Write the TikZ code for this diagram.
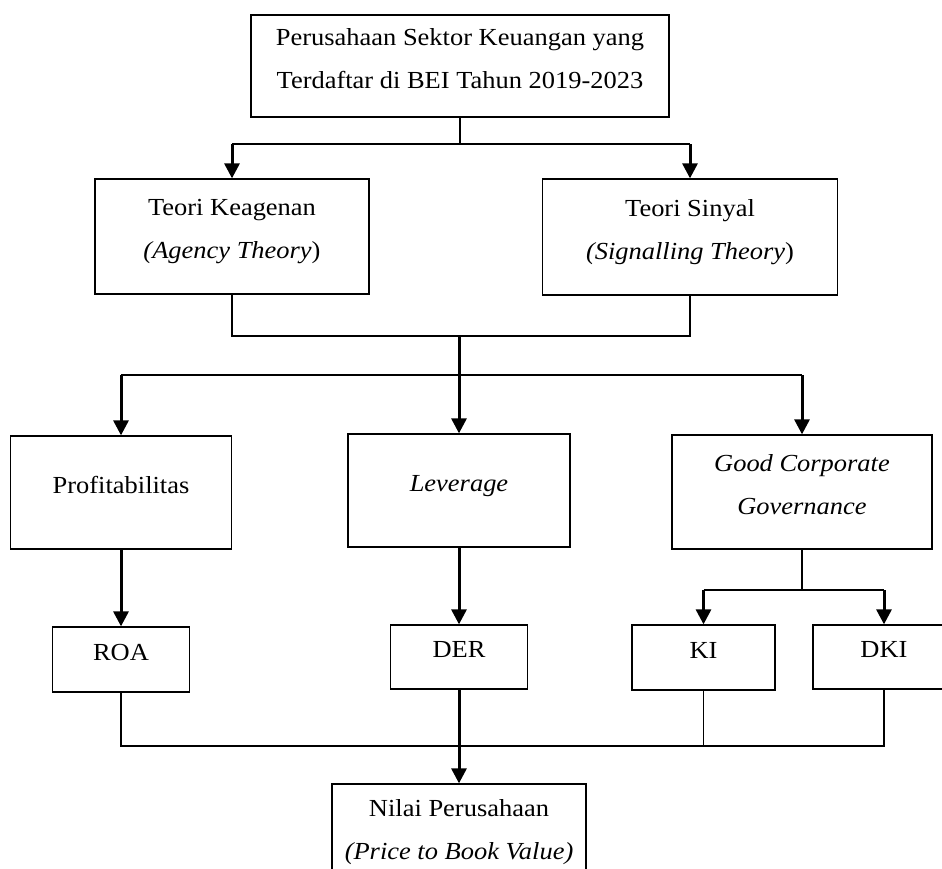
\documentclass[tikz,border=0pt]{standalone}
\usepackage{fontspec}
\setmainfont{Liberation Serif}[FakeStretch=1.08]
\usetikzlibrary{arrows.meta,arrows}

\begin{document}
\begin{tikzpicture}[x=1pt, y=-1pt, >={Triangle[length=15pt,width=15pt]},
  box/.style={draw, line width=1.3pt, inner sep=0pt, align=center, font=\fontsize{24.5}{43}\selectfont,
    execute at end node={\rule[-15pt]{0pt}{15pt}}},
  link/.style={line width=1.2pt},
  flow/.style={line width=3pt, ->}]

\useasboundingbox (0,0) rectangle (942,868);
\clip (0,0) rectangle (942,868);

% draw the boxes
\node[box, minimum width=418pt, minimum height=102pt] (bei) at (460,66) {Perusahaan Sektor Keuangan yang\\Terdaftar di BEI Tahun 2019-2023};
\node[box, minimum width=274pt, minimum height=115pt] (agency) at (232,236.5) {Teori Keagenan\\\textit{(Agency Theory})};
\node[box, minimum width=295pt, minimum height=116pt] (signal) at (690,237) {Teori Sinyal\\\textit{(Signalling Theory})};

\node[box, minimum width=221pt, minimum height=113pt] (profit) at (121,492.5) {Profitabilitas};
\node[box, minimum width=222pt, minimum height=113pt] (lev) at (459,490.5) {\textit{Leverage}};
\node[box, minimum width=260pt, minimum height=114pt] (gcg) at (802,492) {\textit{Good Corporate}\\\textit{Governance}};

\node[box, minimum width=137pt, minimum height=65pt] (roa) at (121,659.5) {ROA};
\node[box, minimum width=137pt, minimum height=64pt] (der) at (459,657) {DER};
\node[box, minimum width=143pt, minimum height=65pt] (ki) at (703.5,657.5) {KI};
\node[box, minimum width=142pt, minimum height=64pt] (dki) at (884,657) {DKI};

\node[box, minimum width=254pt, minimum height=106pt] (pbv) at (459,837) {Nilai Perusahaan\\\textit{(Price to Book Value)}};

% draw the connectors
\coordinate (j1) at (460,144);
\draw[link] (bei.south) -- (j1);
\draw[link] (agency.north |- j1) -- (signal.north |- j1);
\draw[flow] (agency.north |- j1) -- (agency.north);
\draw[flow] (signal.north |- j1) -- (signal.north);

\coordinate (j2) at (459,336);
\draw[link] (agency.south) -- (agency.south |- j2) -- (signal.south |- j2) -- (signal.south);
\draw[flow] (j2) -- (lev.north);

\coordinate (j3) at (459,375);
\draw[link] (profit.north |- j3) -- (gcg.north |- j3);
\draw[flow] (profit.north |- j3) -- (profit.north);
\draw[flow] (gcg.north |- j3) -- (gcg.north);

\draw[flow] (profit.south) -- (roa.north);
\draw[flow] (lev.south) -- (der.north);

\coordinate (j4) at (802,590);
\draw[link] (gcg.south) -- (j4);
\draw[link] (ki.north |- j4) -- (dki.north |- j4);
\draw[flow] (ki.north |- j4) -- (ki.north);
\draw[flow] (dki.north |- j4) -- (dki.north);

\coordinate (j5) at (459,746);
\draw[link] (roa.south) -- (roa.south |- j5) -- (dki.south |- j5) -- (dki.south);
\draw[link] (ki.south) -- (ki.south |- j5);
\draw[flow] (der.south) -- (pbv.north);

\end{tikzpicture}
\end{document}
